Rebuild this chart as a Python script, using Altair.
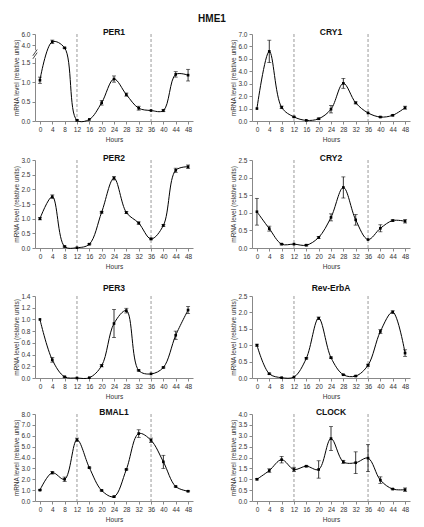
import altair as alt
import pandas as pd

hours = list(range(0, 49, 4))
zeitgeber_marks = [12, 36]

per1_mean = [1.05, 4.6, 3.6, 0.02, 0.04, 0.47, 1.08, 0.68, 0.33, 0.27, 0.27, 1.2, 1.18]
per1_err = [0.08, 0.3, 0.1, 0.02, 0.0, 0.06, 0.08, 0.04, 0.05, 0.0, 0.03, 0.07, 0.15]

cry1_mean = [1.0, 5.6, 1.1, 0.33, 0.05, 0.18, 0.95, 3.03, 1.46, 0.65, 0.32, 0.46, 1.07]
cry1_err = [0.0, 0.9, 0.1, 0.05, 0.0, 0.05, 0.3, 0.4, 0.08, 0.0, 0.03, 0.05, 0.12]

per2_mean = [1.0, 1.75, 0.05, 0.01, 0.13, 1.22, 2.38, 1.21, 0.85, 0.31, 0.77, 2.65, 2.77]
per2_err = [0.04, 0.06, 0.02, 0.0, 0.02, 0.03, 0.06, 0.03, 0.04, 0.03, 0.03, 0.07, 0.06]

cry2_mean = [1.03, 0.55, 0.11, 0.11, 0.08, 0.3, 0.87, 1.72, 0.8, 0.24, 0.56, 0.78, 0.76]
cry2_err = [0.38, 0.07, 0.02, 0.0, 0.02, 0.03, 0.1, 0.3, 0.15, 0.0, 0.1, 0.02, 0.05]

per3_mean = [1.0, 0.31, 0.02, 0.0, 0.005, 0.21, 0.93, 1.15, 0.13, 0.07, 0.18, 0.73, 1.16]
per3_err = [0.0, 0.04, 0.01, 0.0, 0.0, 0.02, 0.24, 0.04, 0.01, 0.0, 0.01, 0.07, 0.06]

reverba_mean = [1.0, 0.13, 0.01, 0.03, 0.6, 1.82, 0.62, 0.1, 0.06, 0.39, 1.42, 2.01, 0.76]
reverba_err = [0.03, 0.02, 0.0, 0.0, 0.02, 0.04, 0.02, 0.01, 0.01, 0.03, 0.06, 0.04, 0.1]

bmal1_mean = [1.0, 2.6, 2.0, 5.63, 3.07, 0.97, 0.4, 2.9, 6.2, 5.58, 3.6, 1.33, 0.9]
bmal1_err = [0.05, 0.12, 0.2, 0.15, 0.05, 0.05, 0.05, 0.05, 0.35, 0.2, 0.6, 0.05, 0.05]

clock_mean = [1.0, 1.4, 1.9, 1.45, 1.6, 1.45, 2.87, 1.8, 1.76, 1.97, 0.96, 0.55, 0.52]
clock_err = [0.03, 0.08, 0.15, 0.1, 0.03, 0.4, 0.55, 0.07, 0.5, 0.62, 0.15, 0.03, 0.08]

# axis-break symbol on the PER1 y axis (two short slashes), in data units
break_x0 = [-2.3, -2.3]
break_x1 = [-0.9, -0.9]
break_y0 = [1.60, 1.68]
break_y1 = [1.76, 1.84]
break_gap = [1.62, 1.82]

FONT = "Liberation Sans"
XDOM = [-1.6, 49.6]


def brk(field):
    f = f"datum.{field}"
    return (f"{f} <= 1.5 ? {f} : ({f} <= 4 ? 1.5 + ({f} - 1.5) * 0.182 : "
            f"1.955 + ({f} - 4) * 0.142)")


def panel(name, mean, err, ymax, ystep, height, broken=False, toff=-5):
    df = pd.DataFrame({"h": hours, "v": mean, "e": err})
    base = alt.Chart(df).transform_calculate(
        lo="datum.v - datum.e", hi="datum.v + datum.e"
    )
    if broken:
        base = base.transform_calculate(yt=brk("v"), ylo=brk("lo"), yhi=brk("hi"))
        yvals = [0, 0.5, 1.0, 1.5, 1.955, 2.239]
        ydom = [0, 2.24]
        lexpr = ("datum.value > 1.6 ? (datum.value < 2.1 ? '4.0' : '6.0') : "
                 "format(datum.value, '.1f')")
    else:
        base = base.transform_calculate(yt="datum.v", ylo="datum.lo", yhi="datum.hi")
        n = int(round(ymax / ystep))
        yvals = [round(i * ystep, 3) for i in range(n + 1)]
        ydom = [0, ymax]
        lexpr = "format(datum.value, '.1f')"

    xscale = alt.Scale(domain=XDOM, nice=False, zero=False)
    yscale = alt.Scale(domain=ydom, nice=False)
    xaxis = alt.Axis(values=hours, title="Hours", format="d", labelOverlap=False)
    yaxis = alt.Axis(values=yvals, labelExpr=lexpr, labelOverlap=False,
                     title="mRNA level (relative units)")

    X = alt.X("h:Q", scale=xscale, axis=xaxis)

    dashed = alt.Chart(pd.DataFrame({"h": zeitgeber_marks})).mark_rule(
        color="#9a9a9a", strokeDash=[3, 2], strokeWidth=1
    ).encode(x=X)

    line = base.mark_line(interpolate="catmull-rom", color="black", strokeWidth=1).encode(
        x=X,
        y=alt.Y("yt:Q", scale=yscale, axis=yaxis),
    )
    eb = base.transform_filter("datum.e > 0")
    rules = eb.mark_rule(color="black", strokeWidth=0.8).encode(
        x=X, y=alt.Y("ylo:Q", scale=yscale, axis=yaxis), y2="yhi:Q"
    )
    cap_lo = eb.mark_tick(color="black", orient="horizontal", size=4, thickness=0.8).encode(
        x=X, y=alt.Y("ylo:Q", scale=yscale, axis=yaxis)
    )
    cap_hi = eb.mark_tick(color="black", orient="horizontal", size=4, thickness=0.8).encode(
        x=X, y=alt.Y("yhi:Q", scale=yscale, axis=yaxis)
    )
    pts = base.mark_point(shape="square", filled=True, color="black", size=7, opacity=1).encode(
        x=X, y=alt.Y("yt:Q", scale=yscale, axis=yaxis)
    )
    layers = [dashed, line, rules, cap_lo, cap_hi, pts]
    if broken:
        gap = alt.Chart(pd.DataFrame({"x0": [break_x0[0]], "x1": [break_x1[0]],
                                      "y0": [break_gap[0]], "y1": [break_gap[1]]})
                        ).mark_rect(color="white").encode(
            x=alt.X("x0:Q", scale=xscale, axis=xaxis), x2="x1:Q",
            y=alt.Y("y0:Q", scale=yscale, axis=yaxis), y2="y1:Q",
        )
        slashes = alt.Chart(pd.DataFrame({"x0": break_x0, "x1": break_x1,
                                          "y0": break_y0, "y1": break_y1})
                            ).mark_rule(color="#333", strokeWidth=0.9).encode(
            x=alt.X("x0:Q", scale=xscale, axis=xaxis), x2="x1:Q",
            y=alt.Y("y0:Q", scale=yscale, axis=yaxis), y2="y1:Q",
        )
        layers += [gap, slashes]

    return alt.layer(*layers).properties(
        width=158,
        height=height,
        title=alt.TitleParams(
            text=name, fontSize=8.5, fontWeight="bold", font=FONT,
            anchor="middle", frame="group", offset=toff, color="#111",
        ),
    )


HS = 37
r1 = alt.hconcat(
    panel("PER1", per1_mean, per1_err, None, None, 87, broken=True),
    panel("CRY1", cry1_mean, cry1_err, 7.0, 1.0, 87),
    spacing=HS,
)
r2 = alt.hconcat(
    panel("PER2", per2_mean, per2_err, 3.0, 0.5, 88),
    panel("CRY2", cry2_mean, cry2_err, 2.5, 0.5, 88),
    spacing=HS,
)
r3 = alt.hconcat(
    panel("PER3", per3_mean, per3_err, 1.4, 0.2, 82, toff=1),
    panel("Rev-ErbA", reverba_mean, reverba_err, 2.5, 0.5, 82, toff=1),
    spacing=HS,
)
r4 = alt.hconcat(
    panel("BMAL1", bmal1_mean, bmal1_err, 8.0, 1.0, 87),
    panel("CLOCK", clock_mean, clock_err, 4.0, 0.5, 87),
    spacing=HS,
)

chart = alt.vconcat(
    alt.vconcat(r1, r2, spacing=10),
    alt.vconcat(r3, r4, spacing=7),
    spacing=13,
).properties(
    title=alt.TitleParams(text="HME1", fontSize=10, fontWeight="bold", font=FONT,
                          anchor="middle", color="#111", offset=4),
).configure_view(stroke=None).configure_axis(
    grid=False,
    labelFont=FONT,
    titleFont=FONT,
    labelFontSize=6.5,
    titleFontSize=6.5,
    titleFontWeight="normal",
    labelColor="#333",
    titleColor="#333",
    domainColor="#888",
    tickColor="#888",
    tickSize=3,
    labelPadding=2,
    titlePadding=1,
    labelOverlap=False,
    labelBound=False,
).configure_axisY(
    labelFlush=False,
).configure_axisX(
    labelFlush=False,
    titlePadding=4,
)

chart.save("out.html", embed_options={"renderer": "svg", "actions": False})
